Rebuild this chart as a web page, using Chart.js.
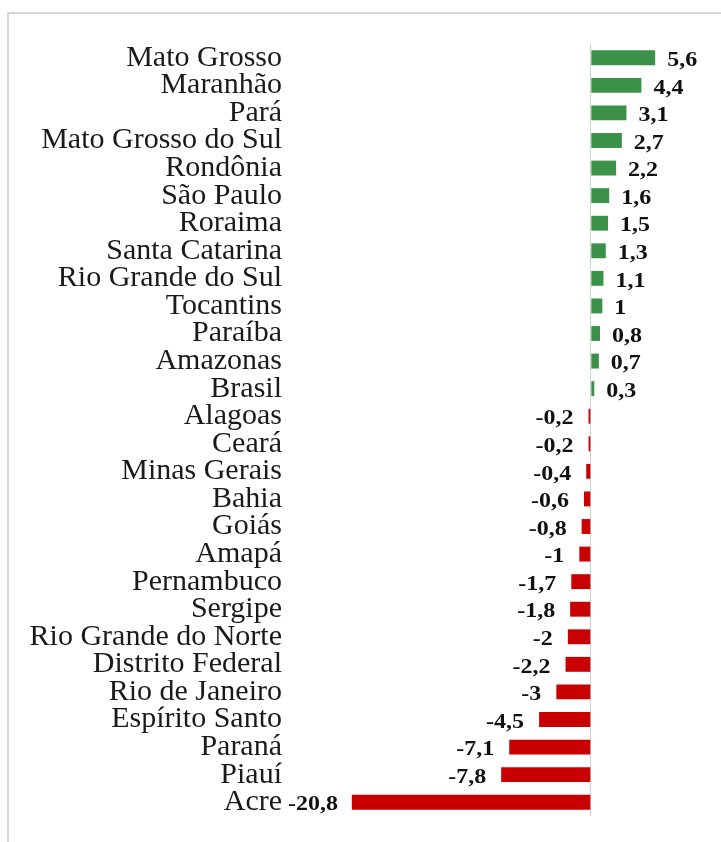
<!DOCTYPE html>
<html>
<head>
<meta charset="utf-8">
<title>Estados</title>
<script src="https://cdn.jsdelivr.net/npm/chart.js@4/dist/chart.umd.min.js"></script>
<style>
  body { margin: 0; background: #fff; }
  #wrap { position: absolute; left: 0; top: 0; width: 721px; height: 842px; }
</style>
</head>
<body>
<div id="wrap"><canvas id="myChart" width="721" height="842"></canvas></div>
<script>
'use strict';

const estados = [
  'Mato Grosso', 'Maranhão', 'Pará', 'Mato Grosso do Sul', 'Rondônia',
  'São Paulo', 'Roraima', 'Santa Catarina', 'Rio Grande do Sul', 'Tocantins',
  'Paraíba', 'Amazonas', 'Brasil', 'Alagoas', 'Ceará', 'Minas Gerais',
  'Bahia', 'Goiás', 'Amapá', 'Pernambuco', 'Sergipe', 'Rio Grande do Norte',
  'Distrito Federal', 'Rio de Janeiro', 'Espírito Santo', 'Paraná', 'Piauí', 'Acre'
];

const variacao = [
  5.6, 4.4, 3.1, 2.7, 2.2,
  1.6, 1.5, 1.3, 1.1, 1,
  0.8, 0.7, 0.3, -0.2, -0.2, -0.4,
  -0.6, -0.8, -1, -1.7, -1.8, -2,
  -2.2, -3, -4.5, -7.1, -7.8, -20.8
];

const verde = '#3B9147';
const vermelho = '#C80000';

const barColors = variacao.map(v => v >= 0 ? verde : vermelho);

// writes the value next to each bar, with a decimal comma
// (the original lettering is a bit wide, so it is stretched sideways)
const valueLabels = {
  id: 'valueLabels',
  afterDatasetsDraw(chart) {
    const ctx = chart.ctx;
    const meta = chart.getDatasetMeta(0);
    const stretch = 1.2;
    ctx.save();
    ctx.font = 'bold 20px "Liberation Serif"';
    ctx.fillStyle = '#111';
    ctx.textBaseline = 'middle';
    ctx.textAlign = 'left';
    meta.data.forEach((bar, i) => {
      const v = variacao[i];
      const txt = String(v).replace('.', ',');
      const w = ctx.measureText(txt).width * stretch;
      let x;
      if (v >= 0) {
        x = bar.x + 12;
      } else {
        const gap = Math.min(15, bar.x - chart.chartArea.left - w - 4);
        x = bar.x - gap - w;
      }
      ctx.save();
      ctx.translate(x, bar.y + 3);
      ctx.scale(stretch, 1);
      ctx.fillText(txt, 0, 0);
      ctx.restore();
    });
    ctx.restore();
  }
};

// light grey frame round the picture
const frame = {
  id: 'frame',
  beforeDraw(chart) {
    const ctx = chart.ctx;
    ctx.save();
    ctx.fillStyle = '#fff';
    ctx.fillRect(0, 0, chart.width, chart.height);
    ctx.strokeStyle = '#d6d6d6';
    ctx.lineWidth = 2;
    ctx.strokeRect(8, 13, 760, 900);
    ctx.restore();
  }
};

const ctx = document.getElementById('myChart').getContext('2d');
const myChart = new Chart(ctx, {
  type: 'bar',
  data: {
    labels: estados,
    datasets: [{
      data: variacao,
      backgroundColor: barColors,
      borderWidth: 0,
      barPercentage: 0.54,
      categoryPercentage: 1
    }]
  },
  options: {
    indexAxis: 'y',
    responsive: false,
    animation: false,
    layout: { padding: { left: 0, right: 21, top: 44, bottom: 26 } },
    plugins: {
      legend: { display: false },
      tooltip: { enabled: false }
    },
    scales: {
      x: {
        min: -26.7,
        max: 9.5,
        ticks: { display: false, stepSize: 1 },
        border: { display: false },
        grid: {
          drawTicks: false,
          lineWidth: 1,
          color: (c) => c.tick && c.tick.value === 0 ? '#d0d0d0' : 'rgba(0,0,0,0)'
        }
      },
      y: {
        afterFit(scale) { scale.width = 284; },
        border: { display: false },
        grid: { display: false, drawTicks: false },
        ticks: {
          autoSkip: false,
          padding: 2,
          color: '#1a1a1a',
          font: { family: '"Liberation Serif"', size: 30 }
        }
      }
    }
  },
  plugins: [frame, valueLabels]
});
</script>
</body>
</html>
